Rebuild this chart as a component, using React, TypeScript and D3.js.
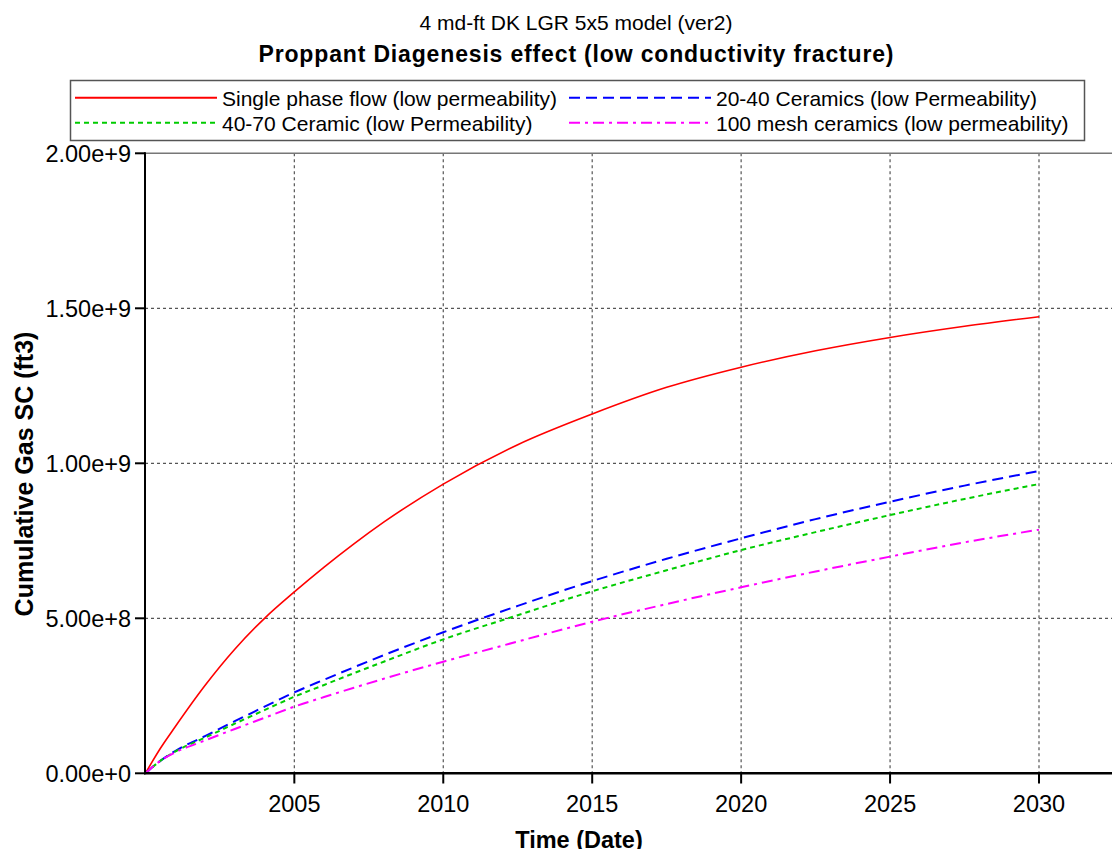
import React from "react";
import * as d3 from "d3";

const years = [2000, 2000.5, 2001, 2002, 2003, 2004, 2005, 2006, 2007, 2008, 2010, 2012.5, 2015, 2017.5, 2020, 2022.5, 2025, 2027.5, 2030];
const singlePhase = [0, 0.08, 0.15, 0.283, 0.4, 0.5, 0.585, 0.665, 0.74, 0.81, 0.933, 1.06, 1.159, 1.245, 1.31, 1.363, 1.406, 1.442, 1.473];
const ceramics2040 = [0, 0.04, 0.072, 0.12, 0.168, 0.215, 0.261, 0.302, 0.342, 0.381, 0.455, 0.54, 0.62, 0.692, 0.758, 0.82, 0.876, 0.928, 0.975];
const ceramic4070 = [0, 0.04, 0.07, 0.115, 0.16, 0.204, 0.247, 0.285, 0.323, 0.36, 0.432, 0.51, 0.587, 0.655, 0.72, 0.778, 0.833, 0.885, 0.933];
const mesh100 = [0, 0.04, 0.067, 0.106, 0.143, 0.179, 0.215, 0.246, 0.276, 0.305, 0.36, 0.425, 0.489, 0.546, 0.6, 0.651, 0.699, 0.745, 0.786];

const seriesNames = [
  "Single phase flow (low permeability)",
  "20-40 Ceramics (low Permeability)",
  "40-70 Ceramic (low Permeability)",
  "100 mesh ceramics (low permeability)",
];
const xTicks = [2005, 2010, 2015, 2020, 2025, 2030];
const yTicks = [0, 5e8, 1e9, 1.5e9, 2e9];

const FONT = "'Liberation Sans', Arial, sans-serif";

export default function App() {
  const x = d3.scaleLinear().domain([2000, 2030]).range([145.4, 1039]);
  const y = d3.scaleLinear().domain([0, 2e9]).range([773.3, 153.3]);
  const fmt = d3.format(".2e");
  const line = d3
    .line<number>()
    .x((_, i) => x(years[i]))
    .y((v) => y(v * 1e9))
    .curve(d3.curveMonotoneX);

  const series = [
    { name: seriesNames[0], data: singlePhase, color: "#ff0000", dash: "", w: 1.6 },
    { name: seriesNames[1], data: ceramics2040, color: "#0000ff", dash: "11,6", w: 2 },
    { name: seriesNames[2], data: ceramic4070, color: "#00cc00", dash: "5,4", w: 2 },
    { name: seriesNames[3], data: mesh100, color: "#ff00ff", dash: "11,5,3,5", w: 2 },
  ];
  const legendPos = [
    { lx: 75, tx: 222, ly: 97.7 },
    { lx: 569, tx: 716, ly: 97.7 },
    { lx: 75, tx: 222, ly: 122.7 },
    { lx: 569, tx: 716, ly: 122.7 },
  ];

  const x0 = 145;
  const xEnd = 1112;
  const yTop = y(2e9);
  const yBot = y(0);

  return (
    <svg
      width={1112}
      height={849}
      style={{ position: "absolute", left: 0, top: 0, background: "#fff" }}
      fontFamily={FONT}
    >
      <rect x={0} y={0} width={1112} height={849} fill="#fff" />
      <text x={576} y={30} textAnchor="middle" fontSize={21} fill="#000">
        4 md-ft DK LGR 5x5 model (ver2)
      </text>
      <text x={576} y={61.7} textAnchor="middle" fontSize={23} fontWeight="bold" fill="#000" textLength={635}>
        Proppant Diagenesis effect (low conductivity fracture)
      </text>

      {/* legend */}
      <rect x={70.5} y={80.5} width={1014} height={60} fill="#fff" stroke="#555" strokeWidth={1.5} />
      {series.map((s, i) => (
        <g key={s.name}>
          <line
            x1={legendPos[i].lx}
            x2={legendPos[i].lx + 142}
            y1={legendPos[i].ly}
            y2={legendPos[i].ly}
            stroke={s.color}
            strokeWidth={2}
            strokeDasharray={s.dash || undefined}
          />
          <text x={legendPos[i].tx} y={legendPos[i].ly + 8} fontSize={21} fill="#000">
            {s.name}
          </text>
        </g>
      ))}

      {/* grid */}
      {xTicks.map((t) => (
        <line key={"gx" + t} x1={x(t)} x2={x(t)} y1={yTop} y2={yBot} stroke="#555" strokeWidth={1.2} strokeDasharray="3,3" />
      ))}
      {yTicks
        .filter((t) => t > 0 && t < 2e9)
        .map((t) => (
          <line key={"gy" + t} x1={x0} x2={xEnd} y1={y(t)} y2={y(t)} stroke="#555" strokeWidth={1.3} strokeDasharray="3,3" />
        ))}
      <line x1={x0} x2={xEnd} y1={yTop} y2={yTop} stroke="#777" strokeWidth={1.5} />

      {/* series */}
      {series.map((s) => (
        <path
          key={"p" + s.name}
          d={line(s.data) || ""}
          fill="none"
          stroke={s.color}
          strokeWidth={s.w}
          strokeDasharray={s.dash || undefined}
        />
      ))}

      {/* axes */}
      <line x1={x0} x2={x0} y1={yTop - 1} y2={yBot + 1} stroke="#000" strokeWidth={2} />
      <line x1={x0 - 1} x2={xEnd} y1={yBot} y2={yBot} stroke="#000" strokeWidth={2.5} />
      {yTicks.map((t) => (
        <g key={"yt" + t}>
          <line x1={135} x2={x0} y1={y(t)} y2={y(t)} stroke="#000" strokeWidth={2} />
          <text x={131} y={y(t) + 8.4} textAnchor="end" fontSize={23.5} fill="#000">
            {fmt(t)}
          </text>
        </g>
      ))}
      {xTicks.map((t) => (
        <g key={"xt" + t}>
          <line x1={x(t)} x2={x(t)} y1={yBot} y2={783.5} stroke="#000" strokeWidth={2} />
          <text x={x(t)} y={811.7} textAnchor="middle" fontSize={23.5} fill="#000">
            {String(t)}
          </text>
        </g>
      ))}

      <text x={579} y={848} textAnchor="middle" fontSize={23.5} fontWeight="bold" fill="#000">
        Time (Date)
      </text>
      <text
        transform="translate(32.7,474) rotate(-90)"
        textAnchor="middle"
        fontSize={25}
        fontWeight="bold"
        fill="#000"
      >
        Cumulative Gas SC (ft3)
      </text>
    </svg>
  );
}
